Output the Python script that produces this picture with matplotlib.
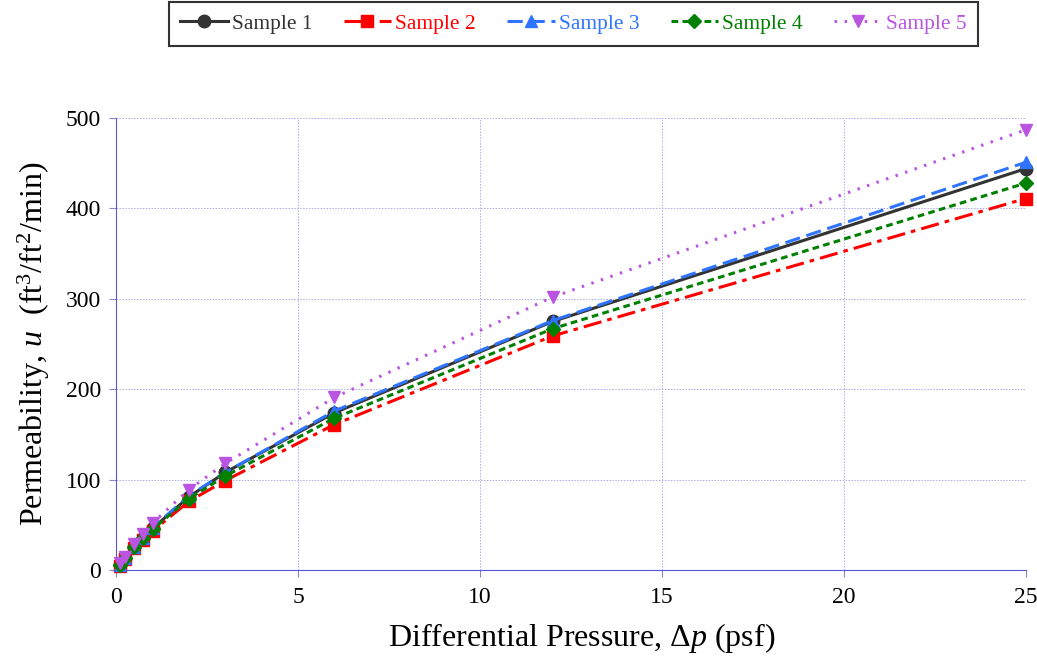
import matplotlib
matplotlib.use("Agg")
import matplotlib.pyplot as plt

plt.rcParams['font.family'] = ['Liberation Serif', 'DejaVu Serif']
plt.rcParams['mathtext.fontset'] = 'custom'
plt.rcParams['mathtext.rm'] = 'Liberation Serif'
plt.rcParams['mathtext.it'] = 'Liberation Serif:italic'

pressure = [0.1, 0.25, 0.5, 0.75, 1, 2, 3, 6, 12, 25]
sample1 = [6, 13, 26, 36, 46, 81, 108, 174, 275, 444]
sample2 = [5, 12, 24, 33, 43, 76, 99, 161, 259, 411]
sample3 = [6, 13, 26, 36, 47, 82, 108, 176, 276, 451]
sample4 = [6, 13, 25, 35, 45, 79, 104, 168, 267, 428]
sample5 = [8, 15, 29, 40, 52, 89, 118, 191, 302, 487]
labels = ["Sample 1", "Sample 2", "Sample 3", "Sample 4", "Sample 5"]
xticks = [0, 5, 10, 15, 20, 25]
yticks = [0, 100, 200, 300, 400, 500]

series = [sample1, sample2, sample3, sample4, sample5]
colors = ['#333333', '#ff0000', '#2f74ff', '#008000', '#b955e0']
styles = ['-', (0, (6, 2, 1.5, 2)), (0, (5, 2.2)), (0, (2.2, 1.4)), (0, (0.8, 2.5))]
markers = ['o', 's', '^', 'D', 'v']
msizes = [9, 9, 9, 7, 9]

fig = plt.figure(figsize=(10.37, 6.56), dpi=100)
ax = fig.add_axes([0.112, 0.131, 0.877, 0.689])

for ys, c, ls, m, ms, lab in zip(series, colors, styles, markers, msizes, labels):
    ax.plot(pressure, ys, color=c, linestyle=ls, linewidth=2.2, marker=m,
            markersize=ms, label=lab, clip_on=False, zorder=3)

ax.set_xlim(0, 25)
ax.set_ylim(0, 500)
ax.set_xticks(xticks)
ax.set_yticks(yticks)
ax.grid(True, color='#aaaaee', linestyle=(0, (1.5, 1.5)), linewidth=0.7)
for s in ['top', 'right']:
    ax.spines[s].set_visible(False)
for s in ['left', 'bottom']:
    ax.spines[s].set_color('#5555dd')
    ax.spines[s].set_linewidth(0.8)
ax.tick_params(axis='both', colors='#8888cc', labelcolor='black', labelsize=17,
               length=5, width=0.8, direction='out')
ax.tick_params(axis='x', pad=7)
ax.tick_params(axis='y', pad=6)

ax.set_xlabel('Differential Pressure, Δ$p$ (psf)', fontsize=23, labelpad=6)
ax.xaxis.set_label_coords(0.512, -0.112)
ax.set_ylabel('Permeability, $u$  (ft$^3$/ft$^2$/min)', fontsize=23, labelpad=10)

leg = fig.legend(loc='upper center', bbox_to_anchor=(0.553, 0.997), ncol=5,
                 fontsize=15.5, frameon=True, fancybox=False, edgecolor='black',
                 handlelength=2.2, columnspacing=1.45, handletextpad=0.2,
                 borderpad=0.55, borderaxespad=0.0)
leg.get_frame().set_linewidth(1.5)
for t, c in zip(leg.get_texts(), colors):
    t.set_color(c)

fig.savefig('out.png', dpi=100)
